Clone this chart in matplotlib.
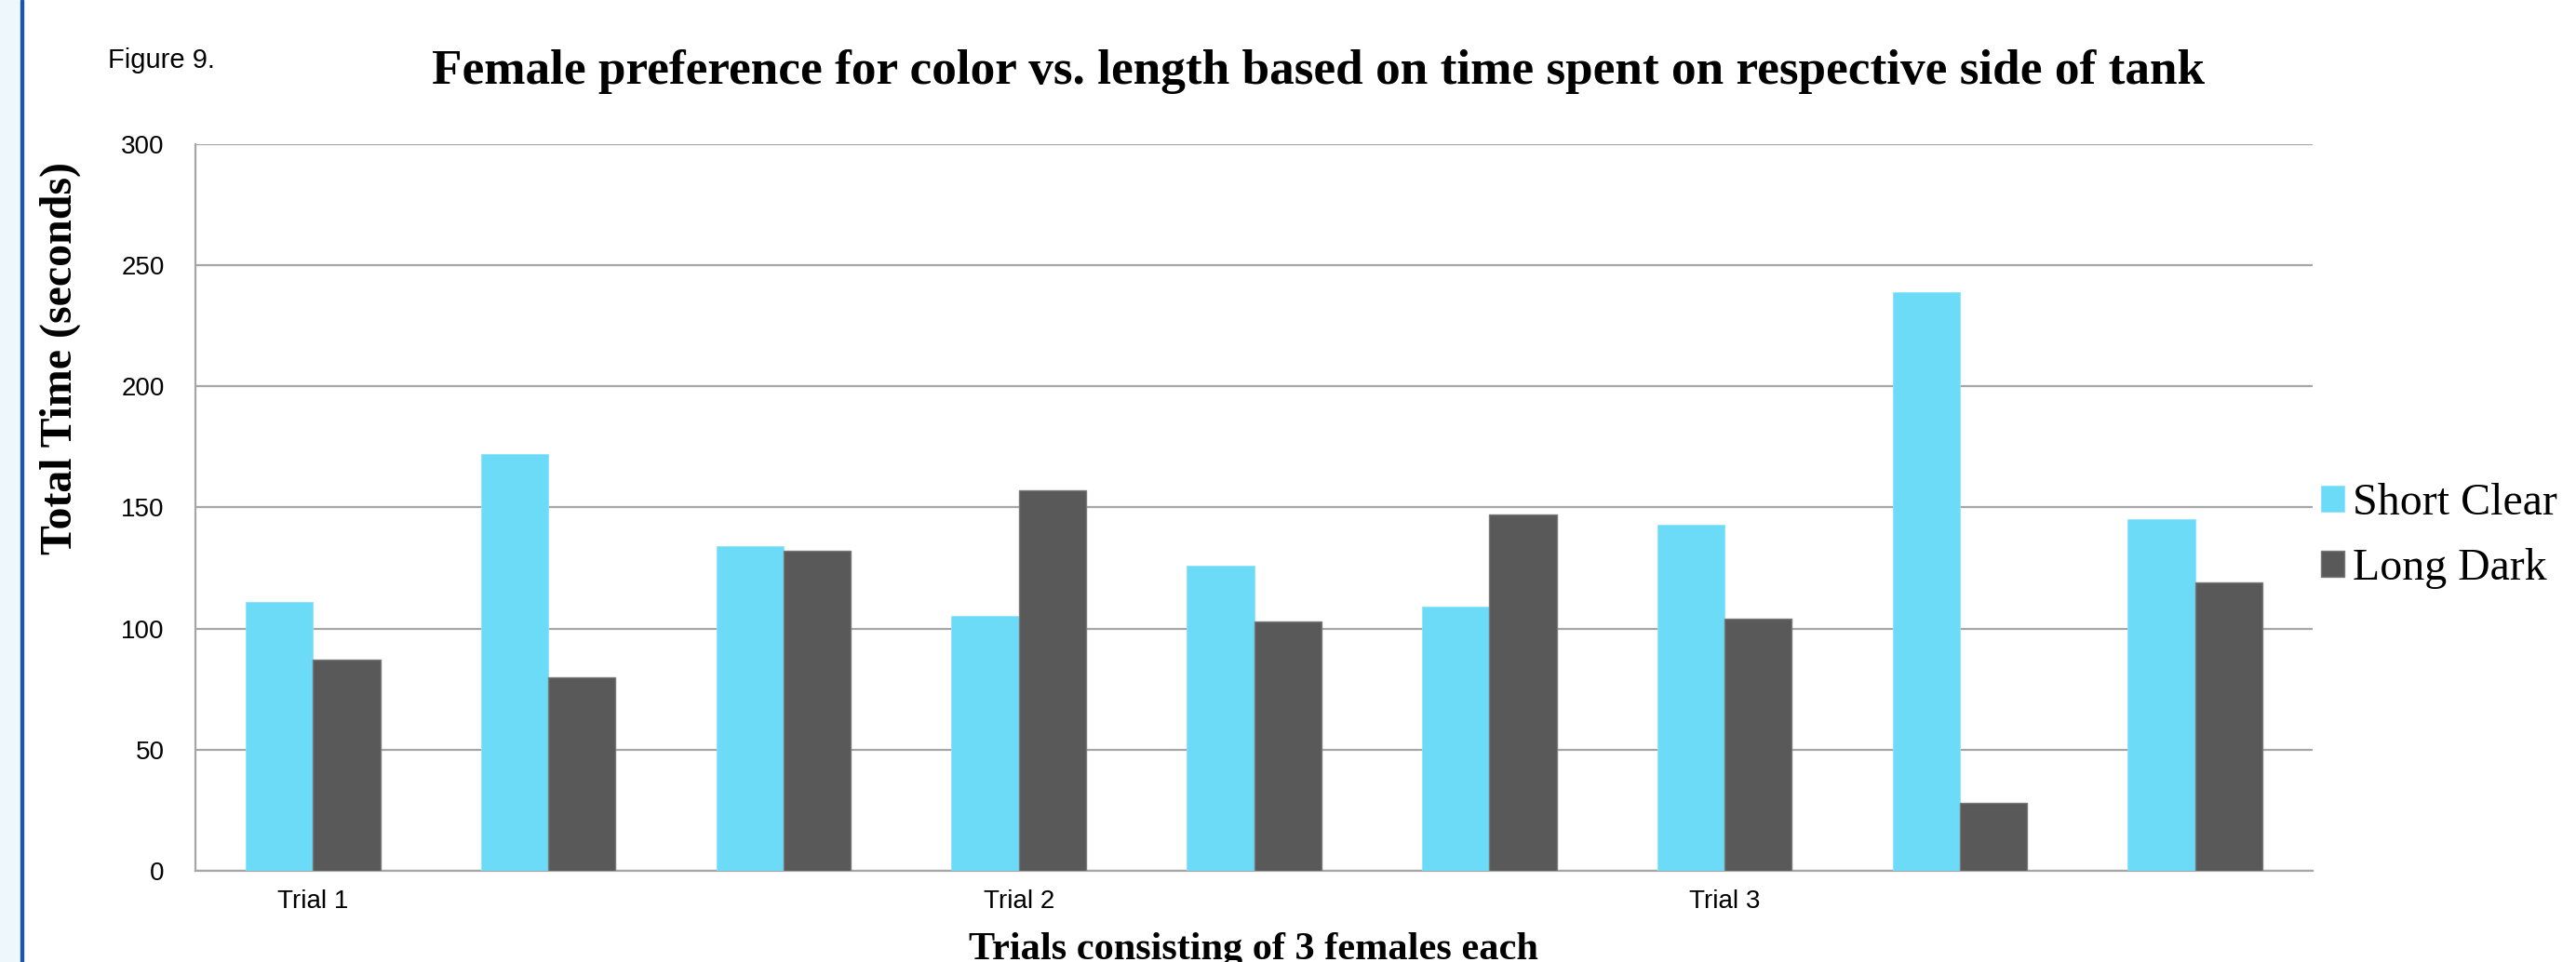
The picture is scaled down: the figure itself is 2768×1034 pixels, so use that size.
import matplotlib
matplotlib.use("Agg")
import matplotlib.pyplot as plt
import numpy as np
from matplotlib.font_manager import fontManager

# Time spent on each side of the tank, per female (3 females x 3 trials)
categories = ["Trial 1", "", "", "Trial 2", "", "", "Trial 3", "", ""]
short_clear = [111, 172, 134, 105, 126, 109, 143, 239, 145]
long_dark = [87, 80, 132, 157, 103, 147, 104, 28, 119]
series_names = ["Short Clear", "Long Dark"]
y_ticks = [0, 50, 100, 150, 200, 250, 300]

CYAN = "#6cdbf8"
DARK = "#595959"
GRID = "#a6a6a6"

names = {f.name for f in fontManager.ttflist}
narrow = "Liberation Sans Narrow" if "Liberation Sans Narrow" in names else "Liberation Sans"
serif = "Liberation Serif"

W, H = 2768, 1034
fig = plt.figure(figsize=(W / 100, H / 100), dpi=100)

# page strip and blue rule on the left edge
fig.patches.append(plt.Rectangle((0, 0), 22 / W, 1, transform=fig.transFigure,
                                 color="#eef8fc", zorder=0))
fig.patches.append(plt.Rectangle((22 / W, 0), 3 / W, 1, transform=fig.transFigure,
                                 color="#1f56a3", zorder=1))

ax = fig.add_axes([210 / W, 98.4 / H, 2275 / W, 780.3 / H])

x = np.arange(len(categories))
width = 0.286
ax.bar(x - width / 2, short_clear, width, color=CYAN, edgecolor="#8fe3f9",
       linewidth=0.6, label=series_names[0], zorder=3)
ax.bar(x + width / 2, long_dark, width, color=DARK, edgecolor="#7a7a7a",
       linewidth=1.0, label=series_names[1], zorder=3)

ax.set_xlim(-0.5, len(categories) - 0.5)
ax.set_ylim(0, 300)
ax.set_yticks(y_ticks)
ax.set_xticks(x)
ax.set_xticklabels(categories)
ax.yaxis.grid(True, color=GRID, linewidth=1.6, zorder=0)
ax.set_axisbelow(True)

for side in ["top", "right"]:
    ax.spines[side].set_visible(False)
for side in ["left", "bottom"]:
    ax.spines[side].set_color(GRID)
    ax.spines[side].set_linewidth(1.6)

ax.tick_params(axis="y", length=0, pad=24, labelsize=20)
ax.tick_params(axis="x", length=0, pad=15, labelsize=20)
for lbl in ax.get_xticklabels() + ax.get_yticklabels():
    lbl.set_family(narrow)

leg = ax.legend(loc="center left", bbox_to_anchor=(2470 / W, 1 - 576 / H),
                bbox_transform=fig.transFigure, frameon=False, borderpad=0,
                handlelength=0.52, handleheight=0.52, handletextpad=0.2,
                labelspacing=0.55, prop={"family": serif, "size": 34.5})

fig.text(116 / W, 1 - 73 / H, "Figure 9.", family=narrow, fontsize=21, va="baseline")
fig.text(1417 / W, 1 - 90 / H,
         "Female preference for color vs. length based on time spent on respective side of tank",
         family=serif, fontweight="bold", fontsize=38.3, ha="center", va="baseline")
fig.text(65 / W, 1 - 385 / H, "Total Time (seconds)", family=serif, fontweight="bold",
         fontsize=34.5, rotation=90, ha="center", va="center")
fig.text(1347 / W, 1 - 1031 / H, "Trials consisting of 3 females each", family=serif,
         fontweight="bold", fontsize=30.5, ha="center", va="baseline")

fig.savefig("out.png", dpi=100)
